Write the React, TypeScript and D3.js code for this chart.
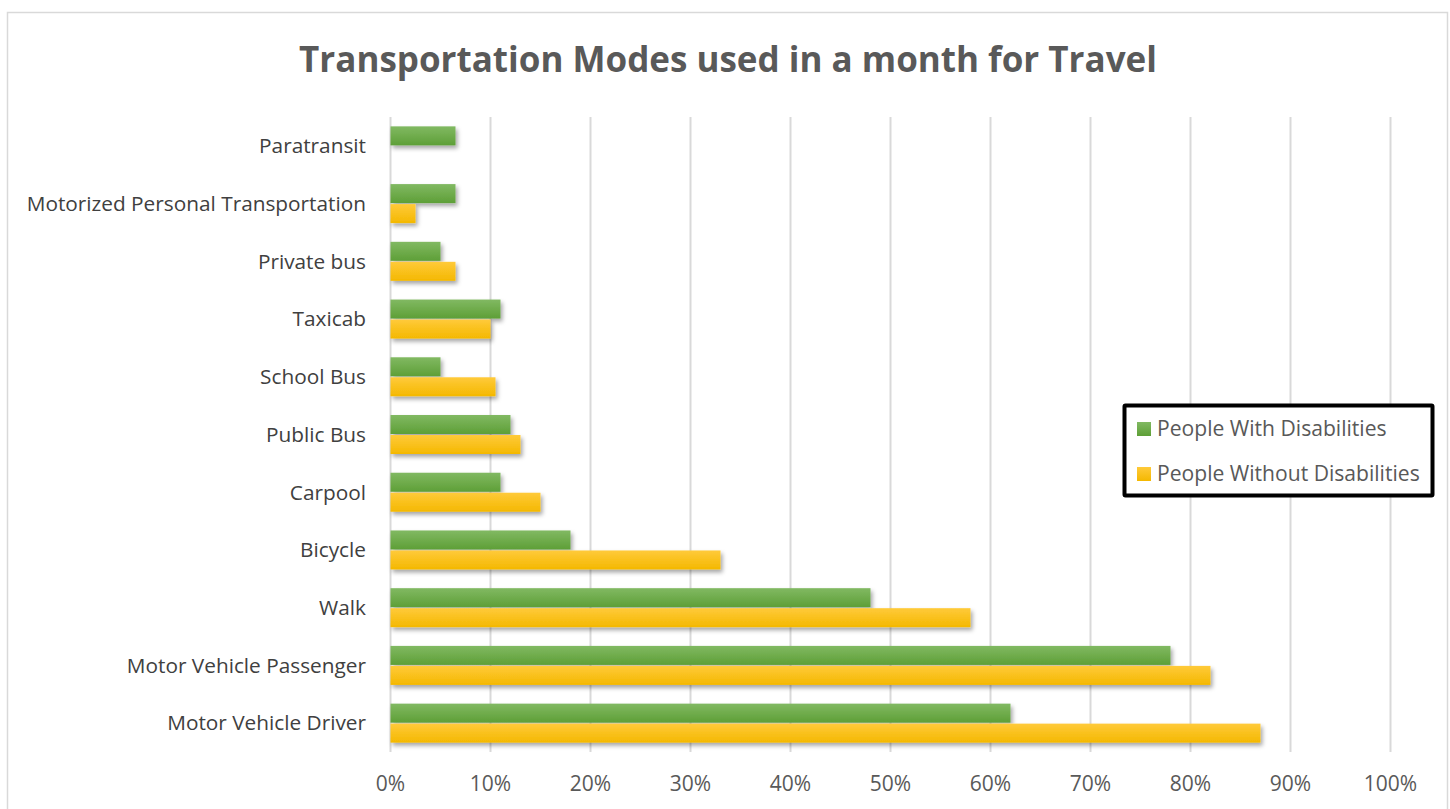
import React, { useEffect, useRef } from 'react';
import * as d3 from 'd3';

const categories = [
  'Paratransit',
  'Motorized Personal Transportation',
  'Private bus',
  'Taxicab',
  'School Bus',
  'Public Bus',
  'Carpool',
  'Bicycle',
  'Walk',
  'Motor Vehicle Passenger',
  'Motor Vehicle Driver',
];
const withDisabilities = [6.5, 6.5, 5, 11, 5, 12, 11, 18, 48, 78, 62];
const withoutDisabilities = [0, 2.5, 6.5, 10, 10.5, 13, 15, 33, 58, 82, 87];
const seriesNames = ['People With Disabilities', 'People Without Disabilities'];
const xTicks = [0, 10, 20, 30, 40, 50, 60, 70, 80, 90, 100];

const App: React.FC = () => {
  const svgRef = useRef(null);

  useEffect(() => {
    const totalWidth = 1450;
    const totalHeight = 809;
    const svg = d3.select(svgRef.current)
      .attr('width', totalWidth)
      .attr('height', totalHeight)
      .style('display', 'block')
      .style('position', 'absolute')
      .style('left', '0px')
      .style('top', '0px');
    svg.selectAll('*').remove();

    const font = "'Open Sans', 'Noto Sans', sans-serif";
    const defs = svg.append('defs');

    const grad = (id: string, top: string, bottom: string) => {
      const g = defs.append('linearGradient').attr('id', id)
        .attr('x1', 0).attr('y1', 0).attr('x2', 0).attr('y2', 1);
      g.append('stop').attr('offset', '0%').attr('stop-color', top);
      g.append('stop').attr('offset', '100%').attr('stop-color', bottom);
    };
    grad('gGreen', '#81b962', '#5e9f37');
    grad('gYellow', '#ffca3a', '#f4b800');

    defs.append('filter').attr('id', 'shadow')
      .attr('x', '-10%').attr('y', '-30%').attr('width', '130%').attr('height', '200%')
      .append('feDropShadow')
      .attr('dx', 2).attr('dy', 3).attr('stdDeviation', 2.2)
      .attr('flood-color', '#000').attr('flood-opacity', 0.35);

    // chart frame
    svg.append('rect')
      .attr('x', 7.5).attr('y', 12.5)
      .attr('width', 1440).attr('height', 820)
      .attr('fill', '#fff').attr('stroke', '#d9d9d9').attr('stroke-width', 1.5);

    svg.append('text')
      .attr('x', 728).attr('y', 72)
      .attr('text-anchor', 'middle')
      .style('font-family', font)
      .style('font-weight', 'bold')
      .style('font-size', '35px')
      .attr('fill', '#595959')
      .text('Transportation Modes used in a month for Travel');

    const xScale = d3.scaleLinear().domain([0, 100]).range([390.5, 1390.5]);
    const yScale = d3.scaleBand().domain(categories).range([117, 752]);
    const inner = d3.scaleBand().domain(['a', 'b']).range([0, 39]).paddingInner(0.05);
    const offset = (yScale.bandwidth() - 39) / 2;

    // gridlines
    svg.append('g').selectAll('line')
      .data(xTicks)
      .enter().append('line')
      .attr('x1', d => xScale(d)).attr('x2', d => xScale(d))
      .attr('y1', 117).attr('y2', 752)
      .attr('stroke', '#d9d9d9').attr('stroke-width', 2);

    const bars = svg.append('g').attr('filter', 'url(#shadow)');
    bars.selectAll('rect.g')
      .data(categories)
      .enter().append('rect')
      .attr('class', 'g')
      .attr('x', xScale(0))
      .attr('y', d => (yScale(d) as number) + offset + (inner('a') as number))
      .attr('width', (d, i) => xScale(withDisabilities[i]) - xScale(0))
      .attr('height', inner.bandwidth())
      .attr('fill', 'url(#gGreen)');
    bars.selectAll('rect.y')
      .data(categories)
      .enter().append('rect')
      .attr('class', 'y')
      .attr('x', xScale(0))
      .attr('y', d => (yScale(d) as number) + offset + (inner('b') as number))
      .attr('width', (d, i) => xScale(withoutDisabilities[i]) - xScale(0))
      .attr('height', inner.bandwidth())
      .attr('fill', 'url(#gYellow)');

    // category labels
    svg.append('g').selectAll('text')
      .data(categories)
      .enter().append('text')
      .attr('x', 366)
      .attr('y', d => (yScale(d) as number) + yScale.bandwidth() / 2)
      .attr('dy', '0.35em')
      .attr('text-anchor', 'end')
      .style('font-family', font)
      .style('font-size', '20.8px')
      .attr('fill', '#404040')
      .text(d => d);

    // x tick labels
    svg.append('g').selectAll('text')
      .data(xTicks)
      .enter().append('text')
      .attr('x', d => xScale(d))
      .attr('y', 784)
      .attr('dy', '0.35em')
      .attr('text-anchor', 'middle')
      .style('font-family', font)
      .style('font-size', '21px')
      .attr('fill', '#595959')
      .text(d => `${d}%`);

    // legend
    const legend = svg.append('g');
    legend.append('rect')
      .attr('x', 1124.5).attr('y', 405.5)
      .attr('width', 308).attr('height', 90)
      .attr('fill', '#fff').attr('stroke', '#000').attr('stroke-width', 4).attr('rx', 1);
    const colors = ['url(#gGreen)', 'url(#gYellow)'];
    seriesNames.forEach((name, i) => {
      const cy = 429 + i * 45;
      legend.append('rect')
        .attr('x', 1137).attr('y', cy - 7)
        .attr('width', 14).attr('height', 14)
        .attr('fill', colors[i]);
      legend.append('text')
        .attr('x', 1157).attr('y', cy)
        .attr('dy', '0.35em')
        .style('font-family', font)
        .style('font-size', '21.1px')
        .attr('fill', '#595959')
        .text(name);
    });
  }, []);

  return <svg ref={svgRef}></svg>;
};

export default App;
